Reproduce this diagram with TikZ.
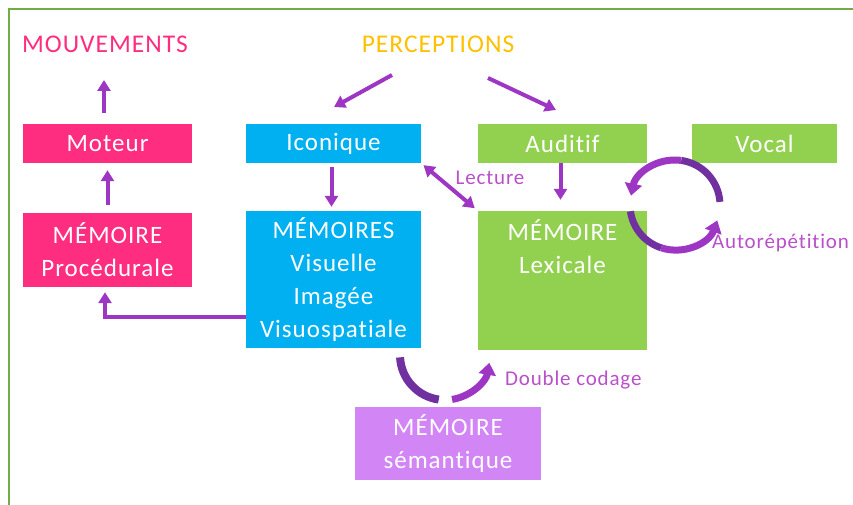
\documentclass[tikz,border=0pt]{standalone}
\usepackage{fontspec}
\setmainfont{Carlito}[LetterSpace=4,Ligatures=NoCommon]
\usetikzlibrary{arrows.meta}
\definecolor{frameg}{HTML}{70AD47}
\definecolor{pinkb}{HTML}{FF2D80}
\definecolor{cyanb}{HTML}{00B0F0}
\definecolor{greenb}{HTML}{92D050}
\definecolor{lilab}{HTML}{D285F5}
\definecolor{yellowt}{HTML}{FFC000}
\definecolor{purp}{HTML}{9E36C4}
\definecolor{dpurp}{HTML}{7030A0}
\definecolor{labc}{HTML}{B94FC9}
\begin{document}
\begin{tikzpicture}[x=1pt,y=-1pt,
  box/.style={rectangle, inner sep=0pt, text=white, align=center,
    font=\fontsize{25}{33}\selectfont},
  title/.style={inner sep=0pt, font=\fontsize{25.5}{28}\selectfont},
  lbl/.style={inner sep=0pt, text=labc, font=\fontsize{21}{23}\selectfont},
  arr/.style={draw=purp, line width=4pt, -{Triangle[width=13pt,length=11pt]}},
  darr/.style={draw=purp, line width=4pt, {Triangle[width=13pt,length=11pt]}-{Triangle[width=13pt,length=11pt]}},
  carrow/.style={draw=purp, line width=7pt, -{Triangle[width=17pt,length=12pt]}},
  ctail/.style={draw=dpurp, line width=7pt}
]
\useasboundingbox (0,0) rectangle (853,505);
\draw[frameg, line width=2pt] (9,505) -- (9,9) -- (853,9);

% titles
\node[title, text=pinkb] (mouv) at (105,44) {MOUVEMENTS};
\node[title, text=yellowt] (percep) at (438,44) {PERCEPTIONS};

% boxes
\node[box, fill=pinkb, minimum width=169pt, minimum height=39pt] (moteur) at (107.5,143.5) {Moteur};
\node[box, fill=pinkb, minimum width=169pt, minimum height=74pt] (proc) at (107.5,250) {MÉMOIRE\\Procédurale};
\node[box, fill=cyanb, minimum width=175pt, minimum height=39pt] (icon) at (333.5,143.5) {Iconique};
\node[box, fill=cyanb, minimum width=175pt, minimum height=137pt] (memv) at (333.5,279.5) {MÉMOIRES\\Visuelle\\Imagée\\Visuospatiale};
\node[box, fill=greenb, minimum width=169pt, minimum height=39pt] (aud) at (562.5,143.5) {Auditif};
\node[box, fill=greenb, minimum width=145pt, minimum height=39pt] (vocal) at (764.5,143.5) {Vocal};
\node[box, fill=greenb, minimum width=169pt, minimum height=139pt] (lex) at (562.5,280.5) {};
\node[box, anchor=north] (lext) at ([yshift=-9pt]lex.north) {MÉMOIRE\\Lexicale};
\node[box, fill=lilab, minimum width=186pt, minimum height=73pt] (sem) at (448,443.5) {MÉMOIRE\\sémantique};

% free arrow ends
\coordinate (mouvtip) at (104,80);
\coordinate (icontip) at (334,107);
\coordinate (audtip) at (556,110);
\coordinate (cr) at (675,205);
\coordinate (cd) at (445,355);

% connectors
\draw[arr, shorten <=11pt] (moteur.north -| mouvtip) -- (mouvtip);
\draw[arr, shorten <=8pt, shorten >=7pt] (proc.north) -- (moteur.south);
\draw[arr, shorten <=4pt, shorten >=4pt] ([xshift=-2pt]icon.south) -- ([xshift=-2pt]memv.north);
\draw[arr, shorten >=11pt] ([xshift=-2pt]aud.south) -- ([xshift=-2pt]lex.north);
\draw[arr, shorten >=5pt] ([yshift=-37.5pt]memv.west) -| ([xshift=-2.5pt]proc.south);
\draw[darr, shorten <=3pt, shorten >=4pt] (icon.south east) -- (lex.north west);
\draw[arr] ([xshift=-46pt,yshift=-31pt]percep.center) -- (icontip);
\draw[arr] ([xshift=50pt,yshift=-34pt]percep.center) -- (audtip);

% autorepetition
\draw[ctail] (cr) ++(-4:45) arc[start angle=-4, end angle=-82, radius=45];
\draw[carrow] (cr) ++(-82:45) arc[start angle=-82, end angle=-168, radius=45];
\draw[ctail] (cr) ++(-188:45) arc[start angle=-188, end angle=-252, radius=45];
\draw[carrow] (cr) ++(-252:45) arc[start angle=-252, end angle=-340, radius=45];

% double codage
\draw[ctail, line width=8pt] (cd) ++(-183:45) arc[start angle=-183, end angle=-262, radius=45];
\draw[carrow] (cd) ++(-279:45) arc[start angle=-279, end angle=-350, radius=45];

% labels
\node[lbl] (lect) at (490,178) {Lecture};
\node[lbl, anchor=west] (dcod) at (505,380) {Double codage};
\node[lbl, anchor=west] (autor) at (712,243) {Autorépétition};
\end{tikzpicture}
\end{document}
